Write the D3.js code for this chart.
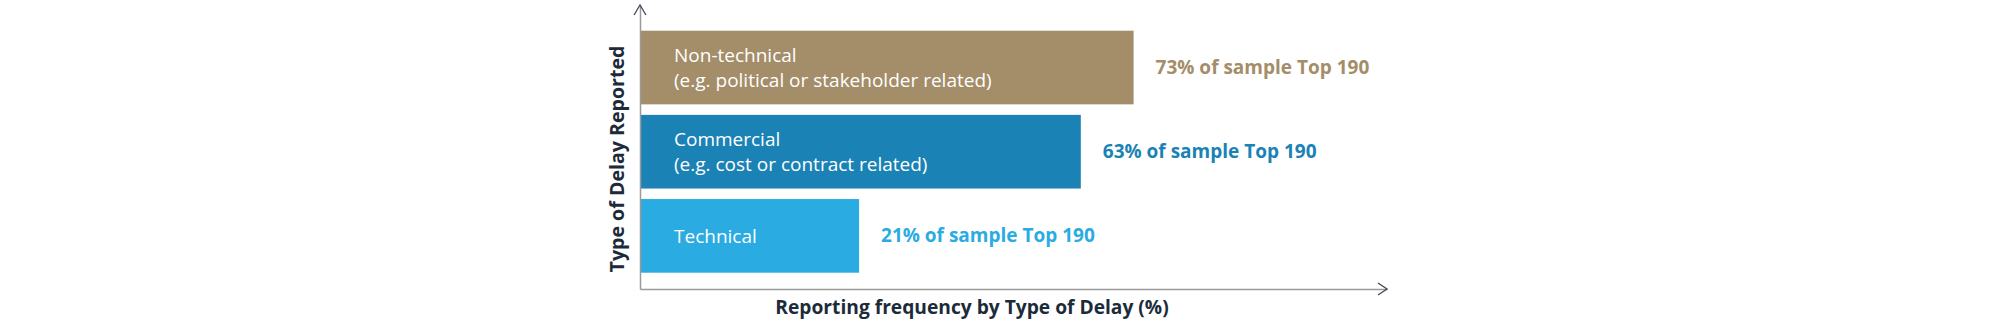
<!DOCTYPE html>
<html>
<head>
<meta charset="utf-8">
<script src="https://cdn.jsdelivr.net/npm/d3@7"></script>
<style>
  html, body { margin: 0; padding: 0; background: #fff; }
  svg { display: block; font-family: "Open Sans", "Noto Sans", sans-serif; }
</style>
</head>
<body>
<div id="chart"></div>
<script>
// data
const categories = ["Non-technical", "Commercial", "Technical"];
const subLabels = ["(e.g. political or stakeholder related)", "(e.g. cost or contract related)", ""];
const values = [73, 63, 21];
const valueLabels = ["73% of sample Top 190", "63% of sample Top 190", "21% of sample Top 190"];

const colors = ["#a48d69", "#1a82b4", "#2aabe2"];
const titleColor = "#1c2b3a";

const width = 2000;
const height = 323;
const margin = { top: 5, left: 640, right: 613, bottom: 34 };

const svg = d3
  .select("#chart")
  .append("svg")
  .attr("width", width)
  .attr("height", height)
  .attr("viewBox", [0, 0, width, height]);

// the source bars are not drawn from zero, so the domain starts a bit below it
const x = d3
  .scaleLinear()
  .domain([-20.5, 121])
  .range([margin.left, width - margin.right]);

const y = d3
  .scaleBand()
  .domain(categories)
  .range([30.7, 272.7])
  .paddingInner(0.125);

const axisY = height - margin.bottom;

// bars
svg
  .append("g")
  .selectAll("rect")
  .data(categories)
  .join("rect")
  .attr("x", x.range()[0])
  .attr("y", (d) => y(d))
  .attr("width", (d, i) => x(values[i]) - x.range()[0])
  .attr("height", y.bandwidth())
  .attr("fill", (d, i) => colors[i]);

// text inside bars
const inner = svg
  .append("g")
  .attr("fill", "#fff")
  .attr("font-size", 19)
  .selectAll("text")
  .data(categories)
  .join("text")
  .attr("x", x.range()[0] + 34)
  .attr("y", (d, i) => {
    const c = y(d) + y.bandwidth() / 2;
    return subLabels[i] ? c - 5.5 : c + 7;
  });
inner.append("tspan").text((d) => d);
inner
  .filter((d, i) => subLabels[i])
  .append("tspan")
  .attr("x", x.range()[0] + 34)
  .attr("dy", 25)
  .text((d, i) => subLabels[i]);

// value labels
svg
  .append("g")
  .attr("font-size", 19)
  .attr("font-weight", "bold")
  .selectAll("text")
  .data(categories)
  .join("text")
  .attr("x", (d, i) => x(values[i]) + 22)
  .attr("y", (d) => y(d) + y.bandwidth() / 2 + 6.5)
  .attr("fill", (d, i) => colors[i])
  .text((d, i) => valueLabels[i]);

// axes
const xAxis = (g) =>
  g
    .attr("transform", `translate(0, ${axisY})`)
    .call(d3.axisBottom(x).ticks(0).tickSizeOuter(0))
    .call((g) => g.select(".domain").attr("stroke", "#9a9a9a").attr("stroke-width", 1.5));

const yAxis = (g) =>
  g
    .attr("transform", `translate(${margin.left}, 0)`)
    .call(d3.axisLeft(d3.scaleLinear().range([axisY, margin.top])).ticks(0).tickSizeOuter(0))
    .call((g) => g.select(".domain").attr("stroke", "#9a9a9a").attr("stroke-width", 1.5));

svg.append("g").call(xAxis);
svg.append("g").call(yAxis);

// arrow heads
const xEnd = x.range()[1];
svg
  .append("path")
  .attr("d", `M${xEnd - 9},${axisY - 6}L${xEnd},${axisY}L${xEnd - 9},${axisY + 6}`)
  .attr("fill", "none")
  .attr("stroke", "#3d4a57")
  .attr("stroke-width", 1.3);
svg
  .append("path")
  .attr("d", `M${margin.left - 6},${margin.top + 10}L${margin.left},${margin.top}L${margin.left + 6},${margin.top + 10}`)
  .attr("fill", "none")
  .attr("stroke", "#3d4a57")
  .attr("stroke-width", 1.3);

// axis titles
svg
  .append("text")
  .attr("x", 972)
  .attr("y", 314)
  .attr("text-anchor", "middle")
  .attr("font-size", 19.2)
  .attr("font-weight", "bold")
  .attr("fill", titleColor)
  .text("Reporting frequency by Type of Delay (%)");

svg
  .append("text")
  .attr("transform", "translate(624, 159) rotate(-90)")
  .attr("text-anchor", "middle")
  .attr("font-size", 19.6)
  .attr("font-weight", "bold")
  .attr("fill", titleColor)
  .text("Type of Delay Reported");
</script>
</body>
</html>
